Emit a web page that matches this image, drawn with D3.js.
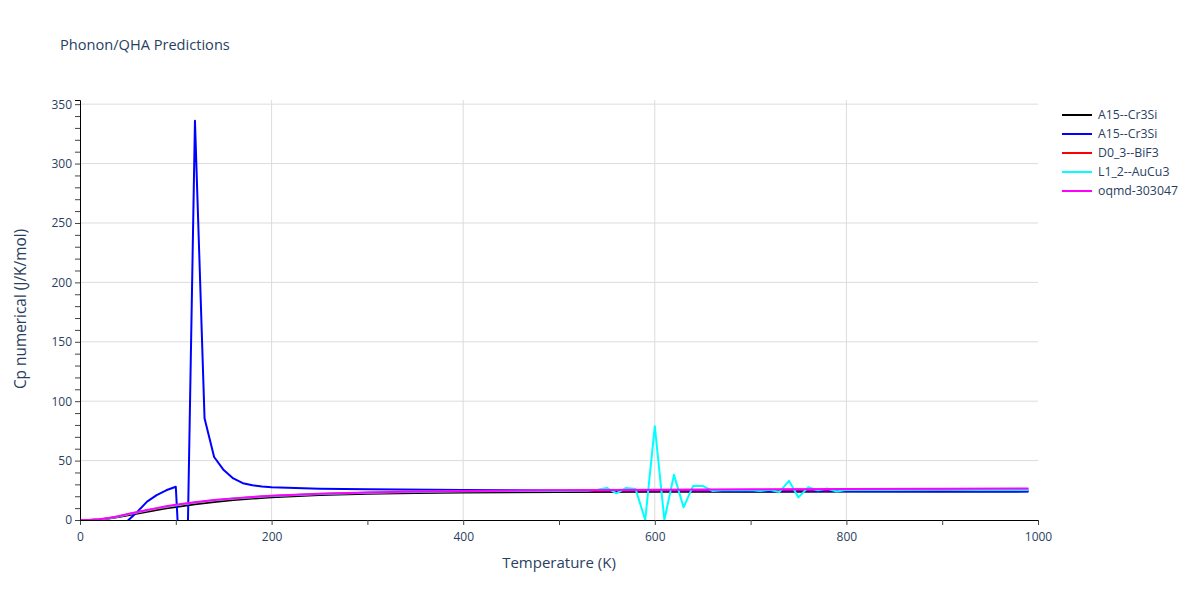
<!DOCTYPE html>
<html><head><meta charset="utf-8">
<script src="https://cdn.jsdelivr.net/npm/d3@7"></script>
<style>body{margin:0;background:#fff;} text{font-family:"Open Sans",sans-serif;}</style>
</head><body>
<svg id="c" width="1200" height="600"></svg>
<script>
const seriesNames = ["A15--Cr3Si","A15--Cr3Si","D0_3--BiF3","L1_2--AuCu3","oqmd-303047"];
const seriesColors = ["#000000","#0000ff","#ff0000","#00ffff","#ff00ff"];

const tSmooth = [0,10,20,30,40,50,60,70,80,90,100,120,140,160,180,200,250,300,350,400,500,600,700,800,900,990];
const blackVals = [0,0.05,0.4,1.2,2.5,4,5.5,7,8.5,9.8,11,13.3,15.2,16.8,18.1,19.2,21,22.1,22.7,23.1,23.5,23.7,23.8,23.9,24.0,24.1];
const redVals   = [0,0.1,0.5,1.4,2.9,4.6,6.3,8,9.5,11,12.3,14.6,16.4,17.9,19.1,20.1,21.8,22.9,23.6,24.1,24.7,25.0,25.3,25.5,25.7,25.9];
const magVals   = [0,0.1,0.6,1.6,3.2,5,6.8,8.5,10,11.5,12.8,15,16.8,18.2,19.4,20.4,22.1,23.2,23.9,24.4,25,25.4,25.8,26.1,26.4,26.6];

const tBlue = [50,60,70,80,90,100,110,120,130,140,150,160,170,180,190,200,250,300,400,500,600,700,800,900,990];
const blueVals = [-0.5,7,15.5,21,25,28,-125,336,85.7,53,42,35,31,29.3,28.2,27.5,26.3,25.8,25.3,24.9,24.6,24.3,24.1,24.0,23.9];

const tCyan = [0,10,20,30,40,50,60,70,80,90,100,120,140,160,180,200,250,300,350,400,450,500,530,540,550,560,570,580,590,600,610,620,630,640,650,660,670,680,690,700,710,720,730,740,750,760,770,780,790,800,850,900,940,990];
const cyanVals = [0,0.1,0.5,1.5,3.0,4.8,6.5,8.2,9.8,11.2,12.5,14.8,16.6,18.0,19.2,20.2,21.9,23.0,23.7,24.2,24.5,24.7,24.8,25.5,27,22.5,27,26,0,79,0,38,10.7,28.7,28.7,24.5,25,25.2,25,25.3,24.3,25.5,23.5,33,19,27.5,25,26.5,24,25.5,25.3,25.4,25.3,25.3];

const xTicks = [0,200,400,600,800,1000];
const yTicks = [0,50,100,150,200,250,300,350];

const series = [
  {t:tSmooth, v:blackVals},
  {t:tBlue, v:blueVals},
  {t:tSmooth, v:redVals},
  {t:tCyan, v:cyanVals},
  {t:tSmooth, v:magVals}
];

const svg = d3.select("#c");
const L=80,R=1038,T=100,B=520;
const x = d3.scaleLinear().domain([0,1000]).range([L,R]);
const y = d3.scaleLinear().domain([0,353.5]).range([B,T]);
const txt="#2a3f5f";

// grid
svg.append("g").selectAll("line").data(xTicks.filter(d=>d>0&&d<1000)).join("line")
  .attr("x1",d=>x(d)).attr("x2",d=>x(d)).attr("y1",T).attr("y2",B)
  .attr("stroke","#dcdcdc").attr("stroke-width",1);
svg.append("g").selectAll("line").data(yTicks.filter(d=>d>0)).join("line")
  .attr("x1",L).attr("x2",R).attr("y1",d=>y(d)).attr("y2",d=>y(d))
  .attr("stroke","#dcdcdc").attr("stroke-width",1);

// clip
svg.append("defs").append("clipPath").attr("id","clip").append("rect")
  .attr("x",L).attr("y",T).attr("width",R-L).attr("height",B-T);

const line = d3.line().x(d=>x(d[0])).y(d=>y(d[1]));
const lg = svg.append("g").attr("clip-path","url(#clip)");
series.forEach((s,i)=>{
  lg.append("path").datum(s.t.map((t,j)=>[t,s.v[j]]))
    .attr("d",line).attr("fill","none").attr("stroke",seriesColors[i])
    .attr("stroke-width",2).attr("stroke-linejoin","round");
});

// axes
const xAxis = d3.axisBottom(x).tickValues(d3.range(0,1001,100)).tickSize(5)
  .tickFormat(d=>xTicks.includes(d)?d:"");
const gx = svg.append("g").attr("transform",`translate(0,${B})`).call(xAxis);
gx.select(".domain").attr("stroke","#000");
gx.selectAll(".tick line").attr("stroke","#444");
gx.selectAll("text").attr("fill",txt).style("font-size","12px").attr("dy","1.05em");

const yAxis = d3.axisLeft(y).tickValues(d3.range(0,351,10)).tickSize(5)
  .tickFormat(d=>yTicks.includes(d)?d:"");
const gy = svg.append("g").attr("transform",`translate(${L},0)`).call(yAxis);
gy.select(".domain").attr("stroke","#000");
gy.selectAll(".tick line").attr("stroke","#444");
gy.selectAll("text").attr("fill",txt).style("font-size","12px").attr("x",-8);

// titles
svg.append("text").attr("x",60).attr("y",50).attr("fill",txt).style("font-size","14.6px").text("Phonon/QHA Predictions");
svg.append("text").attr("x",(L+R)/2).attr("y",568).attr("text-anchor","middle").attr("fill",txt).style("font-size","15px").text("Temperature (K)");
svg.append("text").attr("transform","translate(26,309) rotate(-90)").attr("text-anchor","middle").attr("fill",txt).style("font-size","15.4px").text("Cp numerical (J/K/mol)");

// legend
const leg = svg.append("g");
seriesNames.forEach((n,i)=>{
  const yy = 115 + i*19;
  leg.append("line").attr("x1",1062).attr("x2",1092).attr("y1",yy).attr("y2",yy).attr("stroke",seriesColors[i]).attr("stroke-width",2);
  leg.append("text").attr("x",1098).attr("y",yy+4).attr("fill",txt).style("font-size","12.3px").text(n);
});
</script>
</body></html>
